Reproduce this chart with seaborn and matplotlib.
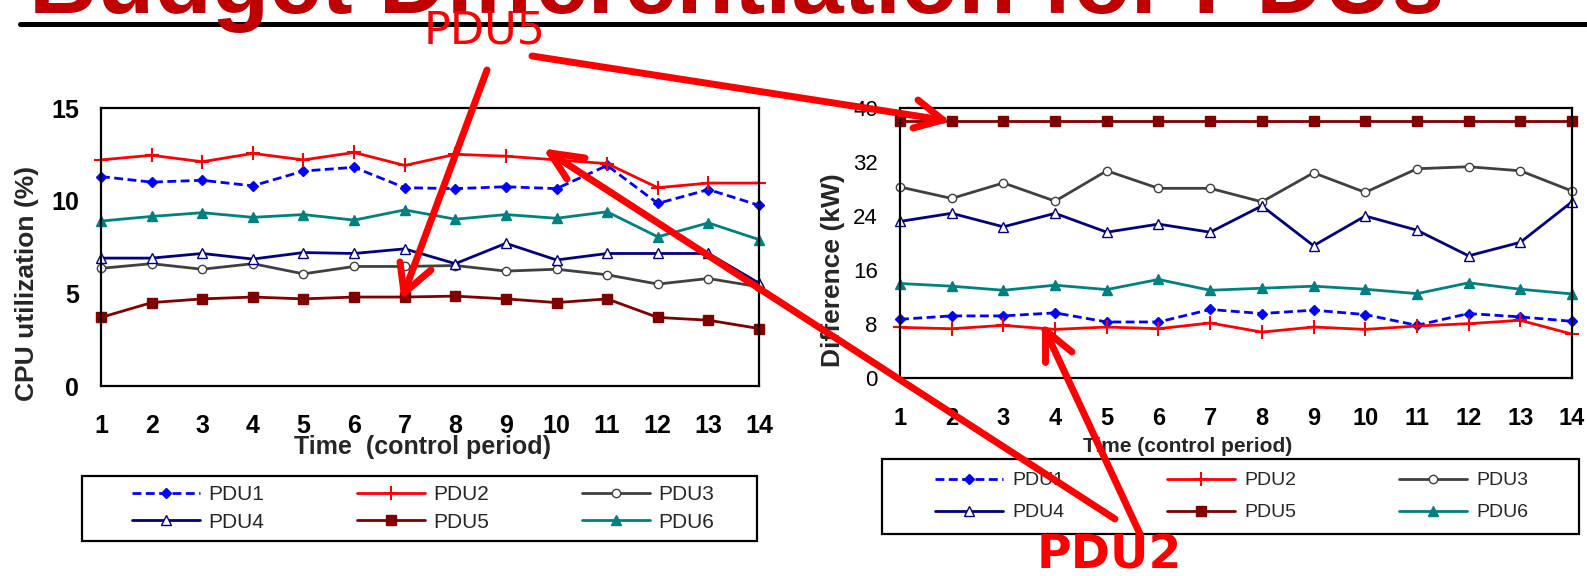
import matplotlib
matplotlib.use("Agg")
import numpy as np
import pandas as pd
import matplotlib.pyplot as plt
import seaborn as sns
from matplotlib.lines import Line2D
from matplotlib.patches import Rectangle

# ---------------- data ----------------
time = [1, 2, 3, 4, 5, 6, 7, 8, 9, 10, 11, 12, 13, 14]
series_names = ["PDU1", "PDU2", "PDU3", "PDU4", "PDU5", "PDU6"]

cpu_pdu1 = [11.3, 11.0, 11.1, 10.8, 11.6, 11.8, 10.7, 10.65, 10.75, 10.65, 11.9, 9.85, 10.6, 9.75]
cpu_pdu2 = [12.2, 12.45, 12.1, 12.55, 12.2, 12.6, 11.9, 12.5, 12.4, 12.2, 12.0, 10.7, 10.95, 10.95]
cpu_pdu3 = [6.35, 6.6, 6.3, 6.6, 6.05, 6.45, 6.45, 6.5, 6.2, 6.3, 6.0, 5.5, 5.8, 5.35]
cpu_pdu4 = [6.9, 6.9, 7.15, 6.85, 7.2, 7.15, 7.4, 6.6, 7.7, 6.8, 7.15, 7.15, 7.15, 5.55]
cpu_pdu5 = [3.7, 4.5, 4.7, 4.8, 4.7, 4.8, 4.8, 4.85, 4.7, 4.5, 4.7, 3.7, 3.55, 3.1]
cpu_pdu6 = [8.9, 9.15, 9.35, 9.1, 9.25, 8.95, 9.5, 9.0, 9.25, 9.05, 9.4, 8.05, 8.8, 7.9]

kw_pdu1 = [8.7, 9.2, 9.2, 9.65, 8.3, 8.3, 10.15, 9.55, 10.05, 9.4, 7.8, 9.55, 9.05, 8.4]
kw_pdu2 = [7.5, 7.3, 7.8, 7.2, 7.55, 7.3, 8.15, 6.8, 7.55, 7.2, 7.7, 8.05, 8.55, 6.5]
kw_pdu3 = [28.3, 26.6, 28.9, 26.2, 30.7, 28.1, 28.1, 26.1, 30.4, 27.5, 31.0, 31.3, 30.7, 27.7]
kw_pdu4 = [23.2, 24.4, 22.4, 24.4, 21.6, 22.8, 21.6, 25.5, 19.6, 24.0, 21.9, 18.1, 20.1, 26.1]
kw_pdu5 = [38.1, 38.1, 38.1, 38.1, 38.1, 38.1, 38.1, 38.1, 38.1, 38.1, 38.1, 38.1, 38.1, 38.1]
kw_pdu6 = [14.0, 13.6, 13.0, 13.75, 13.1, 14.6, 13.0, 13.3, 13.6, 13.15, 12.5, 14.1, 13.15, 12.45]

x_tick_labels = ["1", "2", "3", "4", "5", "6", "7", "8", "9", "10", "11", "12", "13", "14"]
cpu_yticks = [0, 5, 10, 15]
kw_yticks = [0, 8, 16, 24, 32, 40]

title_text = "Budget Differentiation for PDUs"
cpu_ylabel = "CPU utilization (%)"
cpu_xlabel = "Time  (control period)"
kw_ylabel = "Difference (kW)"
kw_xlabel = "Time (control period)"

# ---------------- style ----------------
sns.set_style("white")
plt.rcParams["font.family"] = ["Liberation Sans", "DejaVu Sans"]

styles = {
    "PDU1": dict(color="#0000FF", marker="D", ls=(0, (3.2, 1.6)), mfc="#0000FF", ms=5.0, mew=1.0),
    "PDU2": dict(color="#FF0000", marker="+", ls="-", mfc="#FF0000", ms=10, mew=1.5),
    "PDU3": dict(color="#404040", marker="o", ls="-", mfc="white", ms=6, mew=1.0),
    "PDU4": dict(color="#000080", marker="^", ls="-", mfc="white", ms=7, mew=1.0),
    "PDU5": dict(color="#800000", marker="s", ls="-", mfc="#800000", ms=7, mew=1.0),
    "PDU6": dict(color="#008080", marker="^", ls="-", mfc="#008080", ms=7, mew=1.0),
}

def long_df(cols):
    frames = []
    for name, vals in zip(series_names, cols):
        frames.append(pd.DataFrame({"time": time, "value": vals, "PDU": name}))
    return pd.concat(frames, ignore_index=True)

cpu_df = long_df([cpu_pdu1, cpu_pdu2, cpu_pdu3, cpu_pdu4, cpu_pdu5, cpu_pdu6])
kw_df = long_df([kw_pdu1, kw_pdu2, kw_pdu3, kw_pdu4, kw_pdu5, kw_pdu6])

W, H = 1587, 576
fig = plt.figure(figsize=(W / 100, H / 100), dpi=100)
fig.patch.set_facecolor("white")

def fx(px):
    return px / W

def fy(py):
    return 1 - py / H

axL = fig.add_axes([fx(101), fy(386), (759 - 101) / W, (386 - 108) / H])
axR = fig.add_axes([fx(900), fy(378), (1572 - 900) / W, (378 - 108) / H])

def draw(ax, df):
    handles = {}
    for name in series_names:
        st = styles[name]
        sub = df[df["PDU"] == name]
        n_before = len(ax.lines)
        sns.lineplot(data=sub, x="time", y="value", ax=ax, color=st["color"],
                     errorbar=None, legend=False)
        line = ax.lines[n_before]
        line.set_linestyle(st["ls"])
        line.set_linewidth(2.0)
        line.set_marker(st["marker"])
        line.set_markersize(st["ms"])
        line.set_markerfacecolor(st["mfc"])
        line.set_markeredgecolor(st["color"])
        line.set_markeredgewidth(st["mew"])
        line.set_clip_on(False)
        line.set_label(name)
        handles[name] = line
    return handles

hL = draw(axL, cpu_df)
hR = draw(axR, kw_df)

def style_axes(ax, yticks, ylim, xlab_size, ylab_size, xpad, ypad, yweight):
    ax.set_xlim(1, 14)
    ax.set_ylim(*ylim)
    ax.set_xticks(time)
    ax.set_xticklabels(x_tick_labels, fontsize=xlab_size, fontweight="bold")
    ax.set_yticks(yticks)
    ax.set_yticklabels([str(v) for v in yticks], fontsize=ylab_size, fontweight=yweight)
    ax.tick_params(axis="x", direction="out", length=6, width=1.5, pad=xpad, colors="black")
    ax.tick_params(axis="y", direction="out", length=6, width=1.5, pad=ypad, colors="black")
    for sp in ax.spines.values():
        sp.set_visible(True)
        sp.set_color("black")
        sp.set_linewidth(1.6)
    ax.set_facecolor("white")
    ax.grid(False)

style_axes(axL, cpu_yticks, (0, 15), 18, 18, 14, 10, "bold")
style_axes(axR, kw_yticks, (0, 40), 17, 16, 15, 10, "normal")

axL.set_xlabel(cpu_xlabel, fontsize=18, fontweight="bold")
axL.xaxis.label.set_va("center")
axL.xaxis.set_label_coords((423 - 101) / 658, (386 - 447) / 278)
axL.set_ylabel(cpu_ylabel, fontsize=19, fontweight="bold")
axL.yaxis.label.set_va("center")
axL.yaxis.set_label_coords((27 - 101) / 658, (386 - 283) / 278)

axR.set_xlabel(kw_xlabel, fontsize=15, fontweight="bold")
axR.xaxis.label.set_va("center")
axR.xaxis.set_label_coords((1188 - 900) / 672, (378 - 447) / 270)
axR.set_ylabel(kw_ylabel, fontsize=19, fontweight="bold")
axR.yaxis.label.set_va("center")
axR.yaxis.set_label_coords((833 - 900) / 672, (378 - 270) / 270)

# ---------------- legends ----------------
order = ["PDU1", "PDU4", "PDU2", "PDU5", "PDU3", "PDU6"]

def add_legend(handles, box, inner, fsize, hlen, htp, lsp):
    bx0, by0, bx1, by1 = box
    ix0, ix1 = inner
    fig.add_artist(Rectangle((fx(bx0), fy(by1)), (bx1 - bx0) / W, (by1 - by0) / H,
                             transform=fig.transFigure, fill=False, ec="black", lw=1.6))
    fig.legend([handles[n] for n in order], order, loc="center",
               bbox_to_anchor=(fx(ix0), fy(by1), (ix1 - ix0) / W, (by1 - by0) / H),
               mode="expand", ncol=3, frameon=False, borderpad=0, borderaxespad=0,
               handlelength=hlen, handletextpad=htp, labelspacing=lsp,
               prop={"size": fsize, "family": ["Liberation Sans", "DejaVu Sans"]})

add_legend(hL, (82, 476, 757, 541), (132, 714), 15, 3.27, 0.38, 0.4)
add_legend(hR, (882, 459, 1579, 534), (935, 1528), 14, 3.5, 0.46, 0.74)

# ---------------- slide title ----------------
t = fig.text(fx(29), fy(13), title_text, fontsize=68, fontweight="bold", color="#C00000",
             ha="left", va="baseline")
fig.canvas.draw()
bb = t.get_window_extent()
t.set_fontsize(68 * 1416 / bb.width)
fig.add_artist(Line2D([fx(20), fx(1587)], [fy(24), fy(24)], transform=fig.transFigure,
                      color="black", lw=3.6))

# ---------------- hand-drawn annotations ----------------
red = "#FF0000"

def stroke(p0, p1, lw=5.0):
    fig.add_artist(Line2D([fx(p0[0]), fx(p1[0])], [fy(p0[1]), fy(p1[1])],
                          transform=fig.transFigure, color=red, lw=lw,
                          solid_capstyle="round", zorder=10))

def arrow(start, tip, arm1, arm2):
    stroke(start, tip)
    stroke(tip, arm1)
    stroke(tip, arm2)

arrow((487, 70), (404, 293), (400, 262), (431, 270))
arrow((532, 56), (943, 120), (918, 100), (913, 128))
arrow((1115, 519), (550, 153), (585, 158), (567, 179))
arrow((1140, 534), (1045, 330), (1045, 362), (1072, 352))

fig.text(fx(485), fy(31), "PDU5", fontsize=32, color=red, ha="center", va="center",
         family=["DejaVu Sans"], zorder=11)
fig.text(fx(1109), fy(556), "PDU2", fontsize=34, fontweight="bold", color=red,
         ha="center", va="center", family=["DejaVu Sans"], zorder=11)

fig.savefig("out.png", dpi=100, facecolor="white")
